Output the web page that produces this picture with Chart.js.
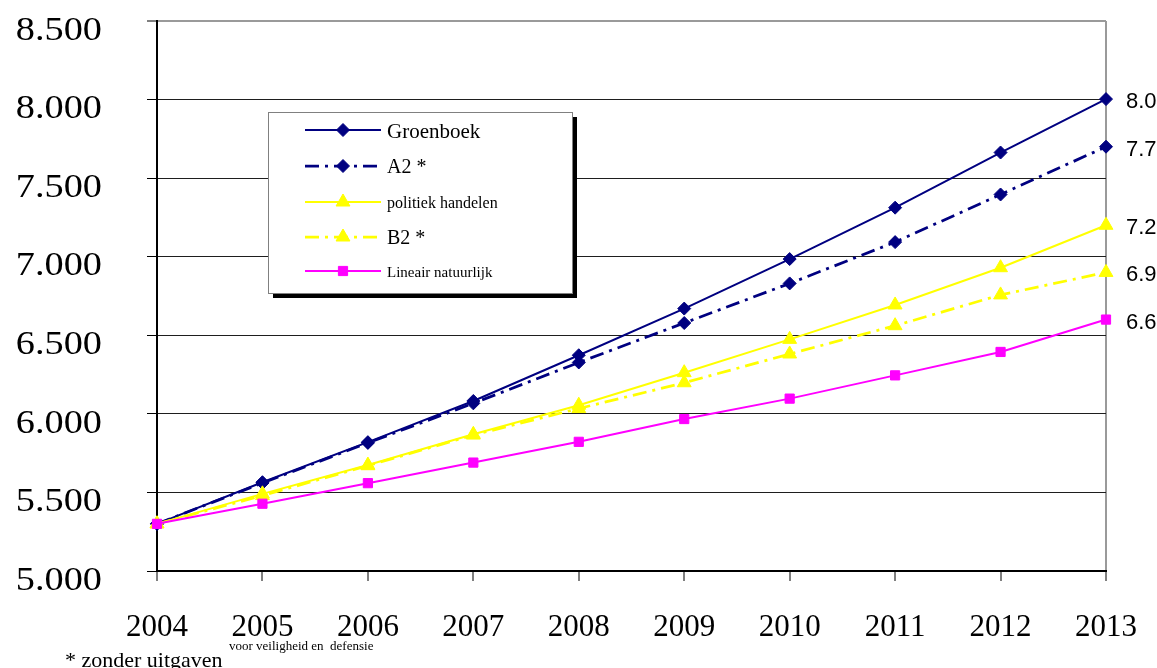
<!DOCTYPE html>
<html>
<head>
<meta charset="utf-8">
<script src="https://cdn.jsdelivr.net/npm/chart.js@4.4.1/dist/chart.umd.min.js"></script>
<style>
  html, body { margin: 0; padding: 0; background: #ffffff; }
  #wrap { width: 1157px; height: 668px; position: relative; }
  canvas { display: block; }
</style>
</head>
<body>
<div id="wrap"><canvas id="chart" width="1157" height="668"></canvas></div>
<script>
// Jaren op de horizontale as
const years = ['2004', '2005', '2006', '2007', '2008', '2009', '2010', '2011', '2012', '2013'];

// Reeksen (bedragen)
const groenboek        = [5300, 5565, 5820, 6082, 6373, 6670, 6985, 7312, 7663, 8003];
const a2               = [5300, 5560, 5815, 6067, 6327, 6578, 6830, 7093, 7396, 7700];
const politiekHandelen = [5300, 5491, 5674, 5870, 6055, 6262, 6474, 6693, 6930, 7200];
const b2               = [5300, 5480, 5670, 5865, 6034, 6198, 6381, 6561, 6757, 6900];
const lineairNatuurlijk= [5300, 5428, 5559, 5690, 5822, 5967, 6097, 6245, 6394, 6600];

// Verticale as
const yMin = 5000;
const yMax = 8500;
const yStep = 500;

// Legendateksten
const seriesNames = ['Groenboek', 'A2 *', 'politiek handelen', 'B2 *', 'Lineair natuurlijk'];

// Voetnoot
const footMain = '* zonder uitgaven';
const footSub = 'voor veiligheid en  defensie';

const NAVY = '#000080';
const YELLOW = '#FFFF00';
const MAGENTA = '#FF00FF';
const SERIF = '"Liberation Serif", "Times New Roman", serif';
const SANS = '"Liberation Sans", Arial, sans-serif';

function fmt(v) {
  return String(Math.round(v)).replace(/\B(?=(\d{3})+(?!\d))/g, '.');
}

// Legenda met schaduw, met gemengde lettergroottes per regel
const boxLegend = {
  id: 'boxLegend',
  afterDatasetsDraw(chart) {
    const ctx = chart.ctx;
    const L = 268, T = 112, W = 304, H = 181;
    const rows = [130, 166, 202, 237, 271];
    const sizes = [21, 20, 16, 20, 15];
    ctx.save();
    ctx.fillStyle = '#000000';
    ctx.fillRect(L + 5, T + 5, W, H);
    ctx.fillStyle = '#ffffff';
    ctx.fillRect(L, T, W, H);
    ctx.strokeStyle = '#808080';
    ctx.lineWidth = 1;
    ctx.strokeRect(L + 0.5, T + 0.5, W, H);
    chart.data.datasets.forEach((ds, i) => {
      const y = rows[i];
      ctx.save();
      ctx.strokeStyle = ds.borderColor;
      ctx.lineWidth = ds.borderWidth;
      ctx.setLineDash(ds.borderDash || []);
      ctx.beginPath();
      ctx.moveTo(305, y);
      ctx.lineTo(381, y);
      ctx.stroke();
      ctx.restore();
      ctx.save();
      ctx.fillStyle = ds.pointBackgroundColor;
      ctx.strokeStyle = ds.pointBorderColor;
      Chart.helpers.drawPoint(ctx, {
        pointStyle: ds.pointStyle,
        radius: ds.pointRadius,
        rotation: 0,
        borderWidth: 1
      }, 343, y);
      ctx.restore();
      ctx.fillStyle = '#000000';
      ctx.font = sizes[i] + 'px ' + SERIF;
      ctx.textAlign = 'left';
      ctx.textBaseline = 'middle';
      ctx.fillText(seriesNames[i], 387, y + 2);
    });
    ctx.restore();
  }
};

// Eindwaarden rechts naast de laatste punten
const endLabels = {
  id: 'endLabels',
  afterDatasetsDraw(chart) {
    const ctx = chart.ctx;
    ctx.save();
    ctx.font = '22px ' + SANS;
    ctx.fillStyle = '#000000';
    ctx.textAlign = 'left';
    ctx.textBaseline = 'middle';
    chart.data.datasets.forEach((ds, i) => {
      const meta = chart.getDatasetMeta(i);
      const last = meta.data[meta.data.length - 1];
      const val = ds.data[ds.data.length - 1];
      ctx.fillText(fmt(val), last.x + 20, last.y + 3);
    });
    ctx.restore();
  }
};

// Voetnoot onder de as
const footnote = {
  id: 'footnote',
  afterDraw(chart) {
    const ctx = chart.ctx;
    ctx.save();
    ctx.fillStyle = '#000000';
    ctx.textAlign = 'left';
    ctx.textBaseline = 'alphabetic';
    ctx.font = '22px ' + SERIF;
    ctx.fillText(footMain, 65, 667);
    ctx.font = '13px ' + SERIF;
    ctx.fillText(footSub, 229, 650);
    ctx.restore();
  }
};

// Labels van de verticale as iets breder tekenen (rechts uitgelijnd blijven)
const wideYLabels = {
  id: 'wideYLabels',
  afterUpdate(chart) {
    const s = chart.scales.y;
    if (s && !s._widened) {
      const orig = s.drawLabels;
      s.drawLabels = function (area) {
        const ctx = this.ctx;
        const ax = this.right - this.options.grid.tickLength - this.options.ticks.padding;
        ctx.save();
        ctx.translate(ax, 0);
        ctx.scale(1.16, 1);
        ctx.translate(-ax, 0);
        orig.call(this, area);
        ctx.restore();
      };
      s._widened = true;
    }
  }
};

function series(label, data, color, width, dash, style, radius, order) {
  return {
    label, data,
    borderColor: color,
    backgroundColor: color,
    borderWidth: width,
    borderDash: dash,
    pointStyle: style,
    pointRadius: radius,
    pointHoverRadius: radius,
    pointBackgroundColor: color,
    pointBorderColor: color,
    pointBorderWidth: 1,
    tension: 0,
    fill: false,
    order
  };
}

const dashDot = [14, 6, 3, 6];

function noPad(s) {
  s.paddingTop = 0;
  s.paddingBottom = 0;
  s.paddingLeft = 0;
  s.paddingRight = 0;
}

new Chart(document.getElementById('chart'), {
  type: 'line',
  data: {
    labels: years,
    datasets: [
      series(seriesNames[0], groenboek, NAVY, 2, [], 'rectRot', 6.5, 5),
      series(seriesNames[1], a2, NAVY, 2.75, dashDot, 'rectRot', 6.5, 4),
      series(seriesNames[2], politiekHandelen, YELLOW, 2, [], 'triangle', 8, 3),
      series(seriesNames[3], b2, YELLOW, 2.75, dashDot, 'triangle', 8, 2),
      series(seriesNames[4], lineairNatuurlijk, MAGENTA, 2, [], 'rect', 6.5, 1)
    ]
  },
  options: {
    responsive: false,
    animation: false,
    devicePixelRatio: 1,
    layout: { padding: { top: 21, right: 51, left: 0, bottom: 0 } },
    plugins: {
      legend: { display: false },
      tooltip: { enabled: false },
      title: { display: false }
    },
    scales: {
      x: {
        type: 'category',
        offset: false,
        grid: {
          drawOnChartArea: true,
          color: (c) => (c.index === years.length - 1 ? '#9a9a9a' : 'rgba(0,0,0,0)'),
          lineWidth: 2,
          tickColor: '#000000',
          tickLength: 10,
          tickWidth: 1
        },
        border: { display: true, color: '#000000', width: 2 },
        ticks: {
          font: { family: SERIF, size: 31 },
          color: '#000000',
          padding: 28,
          maxRotation: 0,
          autoSkip: false
        },
        afterFit: (s) => { s.height = 97; noPad(s); }
      },
      y: {
        min: yMin,
        max: yMax,
        grid: {
          color: (c) => (c.tick && c.tick.value === yMax ? '#9a9a9a' : '#1e1e1e'),
          lineWidth: (c) => (c.tick && c.tick.value === yMax ? 2 : 1),
          tickColor: '#000000',
          tickLength: 10,
          tickWidth: 1
        },
        border: { display: true, color: '#000000', width: 2 },
        ticks: {
          stepSize: yStep,
          font: { family: SERIF, size: 33 },
          color: '#000000',
          padding: 45,
          labelOffset: 10,
          callback: (v) => fmt(v)
        },
        afterFit: (s) => { s.width = 157; noPad(s); }
      }
    }
  },
  plugins: [wideYLabels, boxLegend, endLabels, footnote]
});
</script>
</body>
</html>
